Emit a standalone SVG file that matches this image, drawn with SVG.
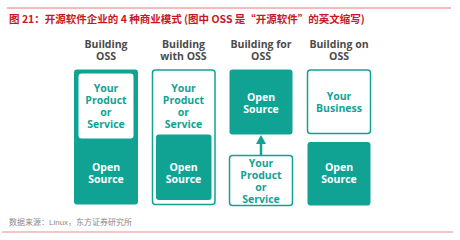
<svg xmlns="http://www.w3.org/2000/svg" width="460" height="240" viewBox="0 0 460 240">
<style>
.title{font-family:"Noto Sans CJK SC","Liberation Sans",sans-serif;font-size:10.5px;font-weight:bold;fill:#c8171e}
.foot{font-family:"Liberation Sans","Noto Sans CJK SC",sans-serif;font-size:8px;fill:#8a8a8a}
.hd{font-family:"Open Sans",sans-serif;font-size:10.5px;font-weight:bold;fill:#4a4a4a;text-anchor:middle}
.tw{font-family:"Open Sans",sans-serif;font-size:10.5px;font-weight:bold;fill:#ffffff;text-anchor:middle}
.tt{font-family:"Open Sans",sans-serif;font-size:10.5px;font-weight:bold;fill:#10a394;text-anchor:middle}
.fill{fill:#10a394;stroke:none}
.out{fill:#ffffff;stroke:#10a394;stroke-width:1.5}
</style>
<line x1="7" y1="8" x2="451" y2="8" stroke="#e8757a" stroke-width="1"/>
<text class="title" x="9" y="23">图 21：开源软件企业的 4 种商业模式 (图中 OSS 是“开源软件”的英文缩写)</text>

<g id="col1">
<text class="hd" x="106" y="48">Building</text>
<text class="hd" x="106" y="60">OSS</text>
<rect class="fill" x="74" y="69.5" width="64" height="135" rx="3"/>
<rect x="78.5" y="73.5" width="55" height="65" rx="3" fill="#ffffff"/>
<text class="tt" x="106" y="92">Your</text>
<text class="tt" x="106" y="104">Product</text>
<text class="tt" x="106" y="116">or</text>
<text class="tt" x="106" y="128">Service</text>
<text class="tw" x="106" y="171">Open</text>
<text class="tw" x="106" y="183">Source</text>
</g>

<g id="col2">
<text class="hd" x="183.5" y="48">Building</text>
<text class="hd" x="183.5" y="60">with OSS</text>
<rect class="out" x="152.5" y="70" width="62.5" height="134.5" rx="3"/>
<rect class="fill" x="156" y="134.5" width="55.5" height="65.5" rx="3"/>
<text class="tt" x="183.5" y="92">Your</text>
<text class="tt" x="183.5" y="104">Product</text>
<text class="tt" x="183.5" y="116">or</text>
<text class="tt" x="183.5" y="128">Service</text>
<text class="tw" x="183.5" y="171">Open</text>
<text class="tw" x="183.5" y="183">Source</text>
</g>

<g id="col3">
<text class="hd" x="261" y="48">Building for</text>
<text class="hd" x="261" y="60">OSS</text>
<rect class="fill" x="229.5" y="69.5" width="63" height="65" rx="3"/>
<text class="tw" x="261" y="101">Open</text>
<text class="tw" x="261" y="113">Source</text>
<rect class="out" x="229.5" y="155.5" width="63" height="50" rx="3"/>
<text class="tt" x="261" y="167">Your</text>
<text class="tt" x="261" y="179">Product</text>
<text class="tt" x="261" y="191">or</text>
<text class="tt" x="261" y="203">Service</text>
</g>

<g id="col4">
<text class="hd" x="339" y="48">Building on</text>
<text class="hd" x="339" y="60">OSS</text>
<rect class="out" x="307.5" y="70" width="63" height="63.5" rx="3"/>
<text class="tt" x="339" y="100">Your</text>
<text class="tt" x="339" y="112">Business</text>
<rect class="fill" x="307.5" y="142" width="63" height="63.5" rx="3"/>
<text class="tw" x="339" y="171">Open</text>
<text class="tw" x="339" y="183">Source</text>
</g>

<g id="connectors">
<line x1="261" y1="155" x2="261" y2="142" stroke="#10a394" stroke-width="2.5"/>
<polygon points="261,135 266,144 256,144" fill="#10a394"/>
</g>

<line x1="2" y1="232" x2="453" y2="232" stroke="#e8898c" stroke-width="1"/>
<text class="foot" x="9" y="225">数据来源：Linux，东方证券研究所</text>
</svg>
